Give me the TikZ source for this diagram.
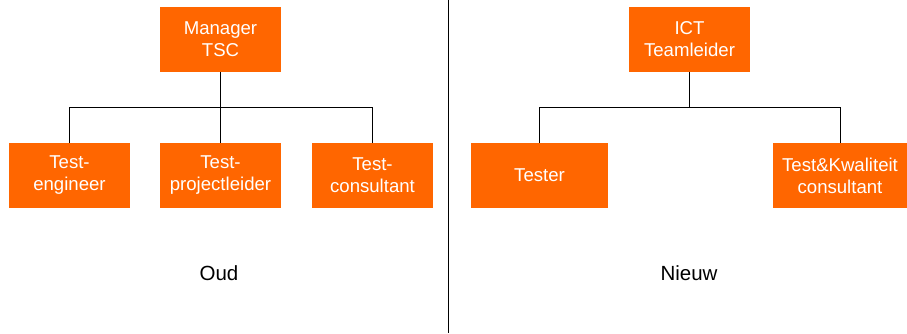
\documentclass[tikz,border=0pt]{standalone}
\usepackage{fontspec}
\setmainfont{Liberation Sans}
\usepackage{xcolor}
\definecolor{tscorange}{RGB}{255, 102, 0}

\tikzset{
  rolebox/.style={fill=tscorange, text=white, align=center, inner sep=0pt,
    minimum width=121pt, minimum height=65pt,
    font=\fontsize{18.6}{22}\selectfont},
  orgline/.style={draw=black, line width=0.9pt},
  caption/.style={font=\fontsize{20.5}{24}\selectfont}
}

\begin{document}
\begin{tikzpicture}[x=1pt, y=-1pt]
    \useasboundingbox (0,0) rectangle (907,333);

    % Old structure - left half
    \node[rolebox] (mgr) at (220.5,39.5) {Manager\\TSC};
    \node[rolebox] (eng) at (69.5,175.5) {Test-\\engineer};
    \node[rolebox] (proj) at (220.5,175.5) {Test-\\projectleider};
    \node[rolebox] (cons) at (372.5,175.5) {Test-\\consultant};
    \draw[orgline] (mgr.south) -- ++(0,35) -| (eng.north);
    \draw[orgline] (mgr.south) -- ++(0,35) -| (cons.north);
    \draw[orgline] (mgr.south) -- (proj.north);
    \node[caption] (oud) at (219,273) {Oud};

    % Divider
    \coordinate (divtop) at (448,0);
    \coordinate (divbot) at (448,333);
    \draw[orgline] (divtop) -- (divbot);

    % New structure - right half
    \node[rolebox] (ict) at (689.5,39.5) {ICT\\Teamleider};
    \node[rolebox, minimum width=137pt] (tester) at (539.5,175.5) {Tester};
    \node[rolebox, minimum width=134pt] (tkc) at (840,175.5) {Test\&Kwaliteit\\consultant};
    \draw[orgline] (ict.south) -- ++(0,35) -| (tester.north);
    \draw[orgline] (ict.south) -- ++(0,35) -| (tkc.north);
    \node[caption] (nieuw) at (689,273) {Nieuw};
\end{tikzpicture}
\end{document}
